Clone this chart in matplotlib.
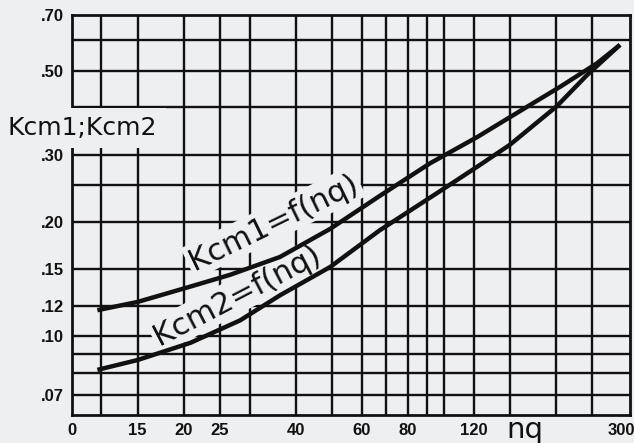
import matplotlib.pyplot as plt
import matplotlib.ticker as mticker

# curve points (log-log chart)
nq1 = [11.7, 15, 20.8, 26.6, 36.2, 49.4, 67.2, 91.7, 122.7, 150.4, 205, 258, 297]
kcm1 = [0.117, 0.123, 0.135, 0.145, 0.1615, 0.1915, 0.234, 0.285, 0.334, 0.377, 0.453, 0.523, 0.584]
nq2 = [11.7, 15, 20.8, 28.3, 36.2, 49.4, 67.2, 95.8, 122.7, 150.4, 201, 242, 297]
kcm2 = [0.0815, 0.0865, 0.096, 0.110, 0.128, 0.152, 0.190, 0.238, 0.279, 0.319, 0.403, 0.486, 0.584]

x_grid = [12, 15, 20, 25, 30, 40, 50, 60, 70, 80, 90, 100, 120, 150, 200, 250]
y_grid = [0.07, 0.08, 0.09, 0.10, 0.12, 0.15, 0.20, 0.25, 0.30, 0.40, 0.50, 0.60]

x_ticks = [10, 15, 20, 25, 40, 60, 80, 120, 300]
x_ticklabels = ['0', '15', '20', '25', '40', '60', '80', '120', '300']
y_ticks = [0.07, 0.10, 0.12, 0.15, 0.20, 0.30, 0.50, 0.70]
y_ticklabels = ['.07', '.10', '.12', '.15', '.20', '.30', '.50', '.70']

bg = '#eeeff1'
ink = '#111111'

fig = plt.figure(figsize=(6.34, 4.43), dpi=100, facecolor=bg)
ax = fig.add_axes([72/634, 28/443, 558/634, 400/443])
ax.set_facecolor(bg)
ax.set_xscale('log')
ax.set_yscale('log')
ax.set_xlim(10, 316)
ax.set_ylim(0.062, 0.70)

for v in x_grid:
    ax.axvline(v, color=ink, lw=1.7, zorder=1)
for v in y_grid:
    ax.axhline(v, color=ink, lw=1.7, zorder=1)
for s in ax.spines.values():
    s.set_linewidth(2.0)
    s.set_color(ink)

ax.plot(nq1, kcm1, color=ink, lw=3.2, solid_capstyle='butt', zorder=4)
ax.plot(nq2, kcm2, color=ink, lw=3.2, solid_capstyle='butt', zorder=4)

ax.xaxis.set_minor_locator(mticker.NullLocator())
ax.yaxis.set_minor_locator(mticker.NullLocator())
ax.set_xticks(x_ticks)
ax.set_xticklabels(x_ticklabels)
ax.set_yticks(y_ticks)
ax.set_yticklabels(y_ticklabels)
ax.tick_params(length=0, labelsize=12, pad=6, colors=ink)
for t in ax.get_xticklabels() + ax.get_yticklabels():
    t.set_fontweight('bold')
    t.set_family('Liberation Sans')

box = dict(facecolor=bg, edgecolor='none', pad=2)
ax.text(21.3, 0.149, 'Kcm1=f(nq)', fontsize=22, rotation=26, ha='left',
        va='baseline', rotation_mode='anchor', color=ink, bbox=box, zorder=3)
ax.text(17.2, 0.0945, 'Kcm2=f(nq)', fontsize=22, rotation=27.5, ha='left',
        va='baseline', rotation_mode='anchor', color=ink, bbox=box, zorder=3)

fig.text(8/634, 1 - 128/443, 'Kcm1;Kcm2', fontsize=18, ha='left', va='center',
         color=ink, bbox=dict(facecolor=bg, edgecolor='none', pad=6), zorder=5)
fig.text(525/634, 1 - 430/443, 'nq', fontsize=21, ha='center', va='center',
         color=ink)

fig.savefig('out.png', dpi=100, facecolor=bg)
